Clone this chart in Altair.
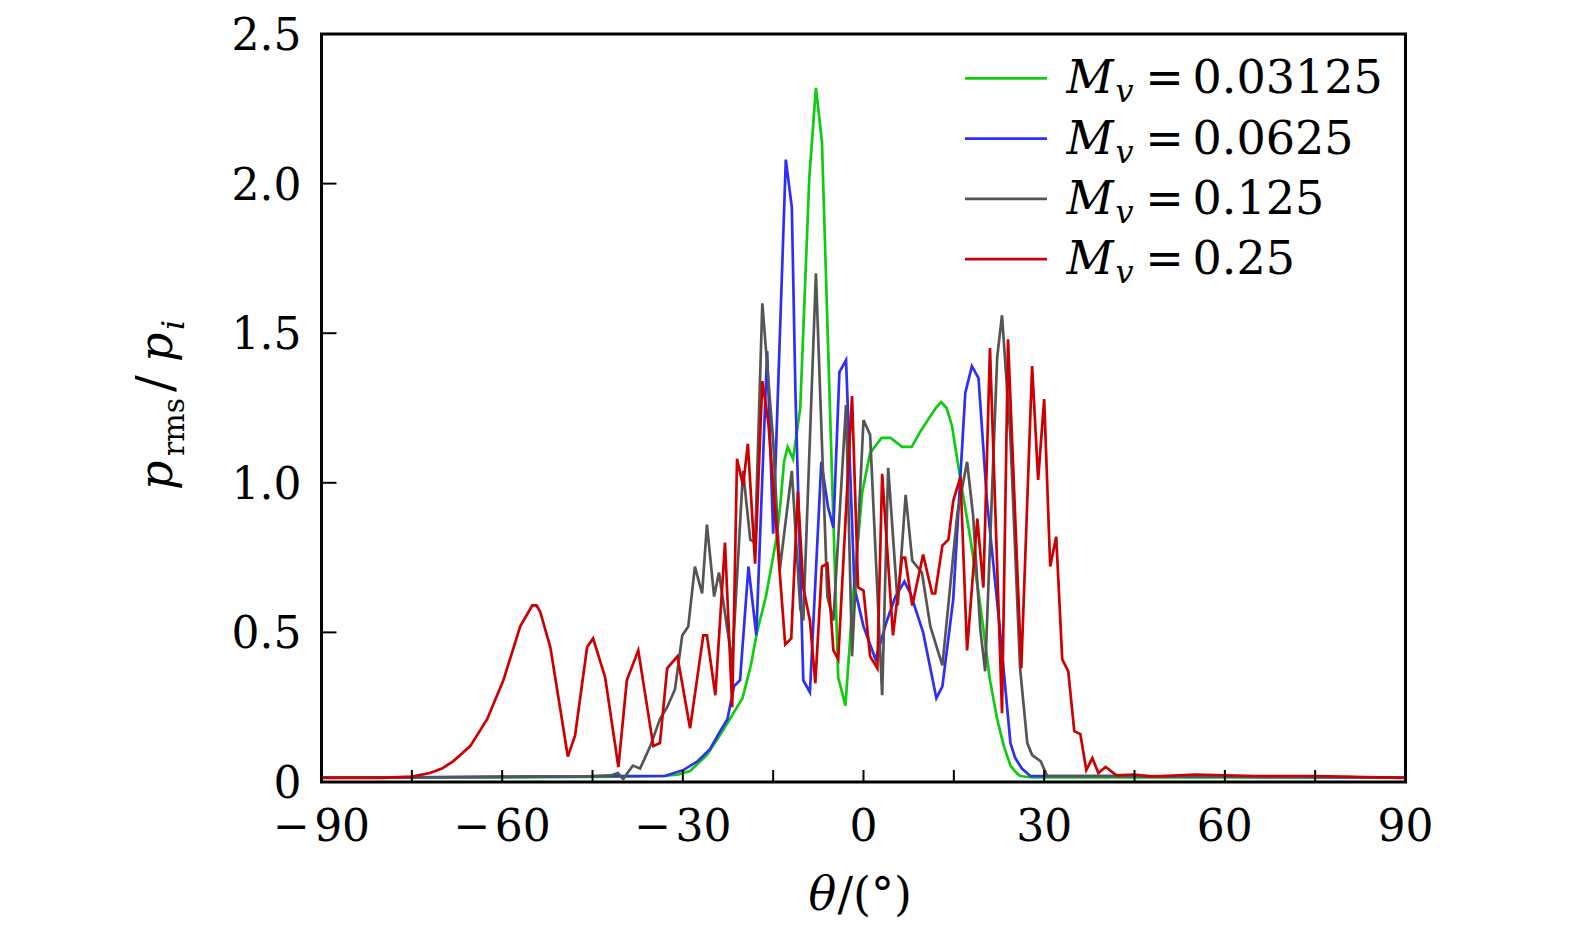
import altair as alt
import pandas as pd

FONT = "DejaVu Serif"

series_names = ["0.03125", "0.0625", "0.125", "0.25"]
series_colors = ["#10cc10", "#2e2ef5", "#555555", "#cc0000"]

theta_green = [-90, -60, -40, -33, -30.7, -28.8, -26, -23.4, -20.1, -18.7, -17.7, -16.2, -14.4, -13.8,
               -13.2, -12.6, -11.7, -10.5, -9.0, -7.9, -6.9, -5.5, -4.2, -3.0, -1.7, -0.2, 1.1, 3.0,
               4.5, 6.4, 8.0, 9.4, 11.0, 12.0, 12.9, 13.8, 14.7, 16.1, 17.7, 19.4, 21.0, 22.2, 23.3,
               24.4, 25.2, 26.0, 28, 30, 40, 90]
value_green = [0.015, 0.015, 0.018, 0.02, 0.025, 0.037, 0.09, 0.17, 0.28, 0.39, 0.5, 0.62, 0.82, 0.93,
               1.07, 1.12, 1.08, 1.25, 2.02, 2.32, 2.14, 1.2, 0.35, 0.255, 0.63, 0.97, 1.10, 1.15,
               1.15, 1.12, 1.12, 1.17, 1.22, 1.25, 1.27, 1.25, 1.19, 1.01, 0.82, 0.59, 0.34, 0.21,
               0.12, 0.055, 0.035, 0.02, 0.015, 0.015, 0.015, 0.015]

theta_blue = [-90, -60, -40, -33, -29.9, -27.5, -25.5, -23.8, -22.6, -21.5, -20.5, -19.1, -17.8, -16.0,
              -15.0, -12.9, -11.9, -11.3, -10.0, -8.9, -7.0, -5.9, -5.0, -4.0, -2.9, -1.5, 0.0, 2.0,
              3.9, 5.3, 6.8, 7.8, 9.9, 12.1, 13.1, 14.9, 16.9, 18.0, 19.1, 20.5, 22.7, 24.4, 25.2,
              26.3, 27.7, 30, 40, 90]
value_blue = [0.015, 0.017, 0.02, 0.02, 0.04, 0.07, 0.11, 0.17, 0.21, 0.32, 0.34, 0.72, 0.49, 1.44,
              0.83, 2.08, 1.92, 1.30, 0.34, 0.30, 1.07, 0.92, 0.85, 1.37, 1.41, 0.65, 0.52, 0.41,
              0.54, 0.62, 0.67, 0.63, 0.50, 0.28, 0.32, 0.61, 1.30, 1.39, 1.35, 0.94, 0.50, 0.13,
              0.08, 0.045, 0.02, 0.02, 0.02, 0.015]

theta_gray = [-90, -75, -60, -45, -42, -40.8, -39.9, -38.3, -37.1, -35.4, -33.8, -32.6, -31.3, -30.1,
              -29.1, -28.0, -26.8, -26.0, -24.8, -24.0, -21.8, -20.0, -18.8, -18.0, -16.8, -15.0,
              -13.9, -11.9, -10.5, -10.0, -7.9, -6.0, -5.0, -2.9, -1.9, 0.0, 1.1, 3.1, 4.1, 5.7, 7.0,
              8.1, 9.7, 11.1, 13.1, 15.6, 17.2, 18.2, 19.4, 20.2, 22.2, 23.0, 24.4, 26.0, 27.2, 28.0,
              29.4, 30.5, 33, 45, 90]
value_gray = [0.015, 0.015, 0.018, 0.02, 0.022, 0.03, 0.01, 0.055, 0.045, 0.12, 0.21, 0.25, 0.31, 0.49,
              0.52, 0.72, 0.63, 0.86, 0.62, 0.70, 0.40, 1.04, 0.81, 0.80, 1.60, 1.14, 0.71, 1.04, 0.58,
              0.54, 1.70, 0.62, 0.54, 1.26, 0.42, 1.21, 1.16, 0.29, 1.05, 0.59, 0.96, 0.74, 0.70, 0.52,
              0.39, 0.90, 1.07, 0.89, 0.51, 0.37, 1.42, 1.56, 1.15, 0.38, 0.13, 0.09, 0.07, 0.02, 0.02,
              0.02, 0.015]

theta_red = [-90, -80, -75, -72, -70, -68.1, -65.3, -62.5, -59.8, -57.0, -55.0, -54.3, -53.7, -52.0,
             -50.4, -49.1, -47.9, -45.9, -44.9, -42.9, -40.7, -39.3, -37.4, -34.9, -33.8, -32.6, -30.9,
             -28.8, -26.6, -26.0, -24.6, -23.0, -21.8, -21.0, -20.0, -19.2, -18.0, -16.8, -15.8,
             -13.0, -12.0, -10.9, -10.0, -8.9, -8.0, -6.9, -6.0, -5.0, -4.2, -1.9, -0.9, 0.0, 1.1,
             2.3, 3.1, 4.9, 6.4, 6.9, 8.1, 9.9, 11.4, 11.9, 13.1, 14.1, 14.9, 16.1, 17.2, 18.9, 19.9,
             21.0, 23.0, 24.0, 26.2, 28.0, 29.0, 30.0, 31.0, 32.0, 33.0, 34.0, 35.0, 36.0, 37.0,
             38.0, 39.0, 40.2, 42, 45, 48, 55, 65, 75, 90]
value_red = [0.014, 0.014, 0.018, 0.03, 0.045, 0.07, 0.12, 0.21, 0.34, 0.52, 0.59, 0.59, 0.57, 0.45,
             0.25, 0.085, 0.155, 0.45, 0.48, 0.35, 0.05, 0.34, 0.44, 0.12, 0.13, 0.38, 0.42, 0.18,
             0.49, 0.49, 0.29, 0.80, 0.25, 1.08, 0.99, 1.13, 0.73, 1.34, 1.20, 0.46, 0.48, 0.97, 0.65,
             0.54, 0.33, 0.72, 0.73, 0.44, 0.41, 1.29, 0.65, 0.64, 0.42, 0.38, 1.03, 0.49, 0.75, 0.75,
             0.59, 0.76, 0.63, 0.63, 0.79, 0.81, 0.94, 1.02, 0.44, 0.88, 0.65, 1.45, 0.23, 1.48, 0.38,
             1.39, 1.01, 1.28, 0.72, 0.82, 0.41, 0.37, 0.17, 0.16, 0.04, 0.08, 0.03, 0.05, 0.022,
             0.025, 0.018, 0.025, 0.02, 0.02, 0.014]

x_tick_values = [-90, -75, -60, -45, -30, -15, 0, 15, 30, 45, 60, 75, 90]
x_label_values = [-90, -60, -30, 0, 30, 60, 90]
x_label_texts = ["\u2212\u200a90", "\u2212\u200a60", "\u2212\u200a30", "0", "30", "60", "90"]
y_tick_values = [0, 0.5, 1.0, 1.5, 2.0, 2.5]
y_label_texts = ["0", "0.5", "1.0", "1.5", "2.0", "2.5"]

W, H = 1084, 748
xscale = alt.Scale(domain=[-90, 90], nice=False, zero=False)
yscale = alt.Scale(domain=[0, 2.5], nice=False, zero=False)

series_data = [
    (theta_green, value_green),
    (theta_blue, value_blue),
    (theta_gray, value_gray),
    (theta_red, value_red),
]

layers = []
for (th, va), color in zip(series_data, series_colors):
    df = pd.DataFrame({"theta": th, "value": va})
    layers.append(
        alt.Chart(df).mark_line(color=color, strokeWidth=2.7, clip=True).encode(
            x=alt.X("theta:Q", scale=xscale, axis=None),
            y=alt.Y("value:Q", scale=yscale, axis=None),
        )
    )

# inward ticks
xt = pd.DataFrame({"t": x_tick_values})
layers.append(
    alt.Chart(xt).mark_rule(color="black", strokeWidth=2).encode(
        x=alt.X("t:Q", scale=xscale, axis=None), y=alt.value(H), y2=alt.value(H - 12)
    )
)
yt = pd.DataFrame({"t": y_tick_values})
layers.append(
    alt.Chart(yt).mark_rule(color="black", strokeWidth=2).encode(
        y=alt.Y("t:Q", scale=yscale, axis=None), x=alt.value(0), x2=alt.value(15)
    )
)

# tick labels
xl = pd.DataFrame({"v": x_label_values, "lab": x_label_texts})
layers.append(
    alt.Chart(xl).mark_text(font=FONT, fontSize=44, color="black", align="center",
                            baseline="alphabetic").encode(
        x=alt.X("v:Q", scale=xscale, axis=None), y=alt.value(H + 59), text="lab:N"
    )
)
yl = pd.DataFrame({"v": y_tick_values, "lab": y_label_texts})
layers.append(
    alt.Chart(yl).mark_text(font=FONT, fontSize=44, color="black", align="right",
                            baseline="alphabetic").encode(
        y=alt.Y("v:Q", scale=yscale, axis=None), x=alt.value(-20), yOffset=alt.value(16),
        text="lab:N"
    )
)

one = pd.DataFrame({"a": [0]})

def txt(text, x, y, size=46, italic=False, angle=0, align="left", baseline="alphabetic"):
    kw = dict(text=text, font=FONT, fontSize=size, color="black", align=align, baseline=baseline)
    if italic:
        kw["fontStyle"] = "italic"
    if angle:
        kw["angle"] = angle
    return alt.Chart(one).mark_text(**kw).encode(x=alt.value(x), y=alt.value(y))

# legend
for i, (name, color) in enumerate(zip(series_names, series_colors)):
    ry = 44.3 + 60.3 * i
    layers.append(
        alt.Chart(one).mark_rule(color=color, strokeWidth=2.7).encode(
            x=alt.value(643.5), x2=alt.value(725.5), y=alt.value(ry)
        )
    )
    layers.append(txt("M", 745, ry + 15, italic=True))
    layers.append(txt("v", 794, ry + 24, size=32, italic=True))
    layers.append(txt("=", 843, ry + 15, align="center"))
    layers.append(txt(name, 871, ry + 15))

# axis titles
layers.append(txt("\u03b8", 487, 876, italic=True))
layers.append(txt("/(\u00b0)", 516, 876))

layers.append(txt("p", -150, 456, italic=True, angle=270))
layers.append(txt("rms", -138, 422, size=30, angle=270))
layers.append(txt("/", -150, 358, size=50, angle=270))
layers.append(txt("p", -150, 328, italic=True, angle=270))
layers.append(txt("i", -138, 296, size=32, italic=True, angle=270))

chart = alt.layer(*layers).properties(
    width=W, height=H,
    padding={"left": 313.5, "top": 26, "right": 150, "bottom": 140},
    autosize=alt.AutoSizeParams(type="none"),
).configure_view(stroke="black", strokeWidth=3)

chart.save("out.html", embed_options={"renderer": "svg", "actions": False})
